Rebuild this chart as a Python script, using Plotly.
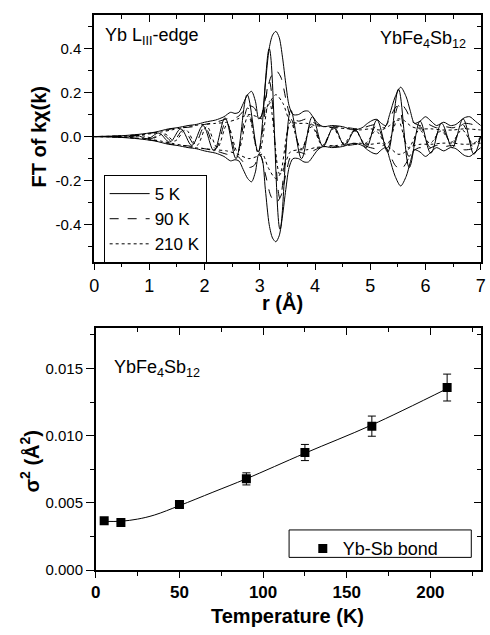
import plotly.graph_objects as go

# ---------------- top panel data ----------------
env_r_5K = [0.0, 0.5, 0.8, 1.1, 1.35, 1.5, 1.7, 1.85, 2.0, 2.1, 2.2, 2.35, 2.47, 2.55, 2.62, 2.7, 2.78, 2.85, 2.92, 2.98,
            3.04, 3.10, 3.17, 3.23, 3.29, 3.35, 3.41, 3.47, 3.53, 3.60, 3.70, 3.80, 3.88, 3.96, 4.05, 4.15, 4.3, 4.5,
            4.7, 4.85, 4.95, 5.05, 5.12, 5.2, 5.28, 5.35, 5.45, 5.55, 5.65, 5.72, 5.8, 5.9, 6.0, 6.1, 6.2, 6.33, 6.45,
            6.55, 6.7, 6.8, 6.9, 7.0]
env_5K = [0.0, 0.004, 0.01, 0.02, 0.035, 0.04, 0.05, 0.055, 0.065, 0.07, 0.075, 0.09, 0.11, 0.105, 0.11, 0.15, 0.19, 0.205, 0.16, 0.08,
          0.1, 0.24, 0.40, 0.46, 0.477, 0.45, 0.36, 0.24, 0.14, 0.1, 0.1, 0.115, 0.115, 0.09, 0.06, 0.045, 0.05, 0.045,
          0.03, 0.04, 0.06, 0.075, 0.078, 0.06, 0.05, 0.1, 0.18, 0.224, 0.18, 0.12, 0.06, 0.07, 0.09, 0.07, 0.05, 0.065, 0.05,
          0.055, 0.085, 0.09, 0.07, 0.05]

env_r_90K = [0.0, 0.5, 0.8, 1.0, 1.2, 1.4, 1.6, 1.8, 2.0, 2.2, 2.4, 2.6, 2.8, 2.9, 3.0, 3.1, 3.2, 3.29, 3.38, 3.48, 3.56,
             3.7, 3.85, 4.0, 4.2, 4.4, 4.6, 4.8, 5.0, 5.12, 5.25, 5.35, 5.45, 5.55, 5.65, 5.75, 5.9, 6.0, 6.2, 6.35, 6.5,
             6.7, 6.85, 7.0]
env_90K = [0.0, 0.003, 0.008, 0.015, 0.022, 0.035, 0.04, 0.045, 0.055, 0.065, 0.08, 0.09, 0.14, 0.13, 0.08, 0.17, 0.27, 0.30, 0.27, 0.16, 0.09,
           0.07, 0.08, 0.06, 0.04, 0.045, 0.04, 0.035, 0.05, 0.055, 0.04, 0.08, 0.13, 0.15, 0.12, 0.07, 0.05, 0.06, 0.04, 0.045, 0.04,
           0.06, 0.055, 0.04]

env_r_210K = [0.0, 0.5, 0.8, 1.0, 1.2, 1.4, 1.6, 1.8, 2.0, 2.2, 2.4, 2.6, 2.8, 2.95, 3.05, 3.15, 3.29, 3.42, 3.55, 3.7, 3.85,
              4.0, 4.2, 4.4, 4.6, 4.8, 5.0, 5.2, 5.35, 5.5, 5.6, 5.75, 5.9, 6.1, 6.3, 6.5, 6.7, 7.0]
env_210K = [0.0, 0.003, 0.008, 0.012, 0.02, 0.03, 0.04, 0.05, 0.055, 0.06, 0.065, 0.08, 0.1, 0.09, 0.08, 0.14, 0.19, 0.15, 0.07, 0.06, 0.06,
            0.05, 0.045, 0.04, 0.035, 0.03, 0.035, 0.03, 0.05, 0.08, 0.075, 0.045, 0.035, 0.035, 0.03, 0.03, 0.035, 0.03]

# real part, read at its extrema
re_r_5K = [0.0, 0.4, 0.57, 0.77, 0.97, 1.17, 1.37, 1.57, 1.77, 1.97, 2.17, 2.37, 2.57, 2.77, 2.97, 3.17, 3.365, 3.56,
           3.755, 3.95, 4.145, 4.34, 4.535, 4.73, 4.925, 5.12, 5.315, 5.51, 5.705, 5.9, 6.095, 6.29, 6.485, 6.68, 6.875, 7.0]
re_5K = [0.0, 0.0, -0.003, 0.006, -0.01, 0.016, -0.025, 0.035, -0.04, 0.05, -0.065, 0.085, -0.1, 0.19, -0.07, 0.398, -0.42, 0.12,
         -0.1, 0.09, -0.045, 0.045, -0.04, 0.03, -0.05, 0.075, -0.07, 0.215, -0.14, 0.07, -0.075, 0.06, -0.05, 0.08, -0.08, 0.0]
re_r_90K = [0.0, 0.45, 0.62, 0.82, 1.02, 1.22, 1.42, 1.62, 1.82, 2.0, 2.2, 2.39, 2.58, 2.78, 2.97, 3.17, 3.365, 3.56,
            3.75, 3.94, 4.14, 4.33, 4.53, 4.72, 4.92, 5.11, 5.31, 5.51, 5.7, 5.9, 6.09, 6.28, 6.48, 6.67, 6.87, 7.0]
re_90K = [0.0, 0.0, -0.003, 0.005, -0.01, 0.014, -0.022, 0.03, -0.035, 0.045, -0.055, 0.07, -0.08, 0.13, -0.07, 0.25, -0.28, 0.08,
          -0.065, 0.06, -0.04, 0.04, -0.035, 0.03, -0.04, 0.05, -0.05, 0.14, -0.09, 0.045, -0.05, 0.04, -0.035, 0.055, -0.05, 0.0]
re_r_210K = [0.0, 0.5, 0.67, 0.87, 1.07, 1.27, 1.46, 1.66, 1.86, 2.04, 2.23, 2.41, 2.6, 2.79, 2.98, 3.17, 3.36, 3.555,
             3.75, 3.94, 4.135, 4.33, 4.52, 4.72, 4.91, 5.1, 5.3, 5.5, 5.69, 5.89, 6.08, 6.28, 6.47, 6.66, 6.86, 7.0]
re_210K = [0.0, 0.0, -0.002, 0.004, -0.007, 0.013, -0.02, 0.03, -0.04, 0.045, -0.05, 0.055, -0.07, 0.095, -0.08, 0.16, -0.17, 0.065,
           -0.055, 0.045, -0.04, 0.035, -0.03, 0.025, -0.03, 0.025, -0.035, 0.075, -0.05, 0.03, -0.03, 0.025, -0.025, 0.03, -0.03, 0.0]

series = [
    ("5 K", env_r_5K, env_5K, re_r_5K, re_5K, "solid"),
    ("90 K", env_r_90K, env_90K, re_r_90K, re_90K, "dash"),
    ("210 K", env_r_210K, env_210K, re_r_210K, re_210K, "dot"),
]

# ---------------- bottom panel data ----------------
temps = [5, 15, 50, 90, 125, 165, 210]
sigma2 = [0.00368, 0.00355, 0.00488, 0.00679, 0.00875, 0.01071, 0.01358]
sigma2_err = [0.0001, 0.0001, 0.0002, 0.00045, 0.0006, 0.00075, 0.001]
fit_T = [5, 15, 25, 35, 50, 70, 90, 125, 165, 210]
fit_s2 = [0.00363, 0.00364, 0.0038, 0.0041, 0.0048, 0.0058, 0.0068, 0.0087, 0.0108, 0.0135]

FONT = "Liberation Sans, Arial, Helvetica, sans-serif"
fig = go.Figure()

for name, er, ev, rr, rv, dash in series:
    fig.add_trace(go.Scatter(x=er, y=ev, mode="lines", name=name, legend="legend",
                             line=dict(color="black", width=1, dash=dash, shape="spline", smoothing=0.8),
                             xaxis="x", yaxis="y", hoverinfo="skip"))
    fig.add_trace(go.Scatter(x=er, y=[-v for v in ev], mode="lines", showlegend=False,
                             line=dict(color="black", width=1, dash=dash, shape="spline", smoothing=0.8),
                             xaxis="x", yaxis="y", hoverinfo="skip"))
    fig.add_trace(go.Scatter(x=rr, y=rv, mode="lines", showlegend=False,
                             line=dict(color="black", width=1, dash=dash, shape="spline", smoothing=1.0),
                             xaxis="x", yaxis="y", hoverinfo="skip"))

# mirror-axis dummy traces
fig.add_trace(go.Scatter(x=[1], y=[0], mode="markers", marker=dict(opacity=0), showlegend=False,
                         xaxis="x3", yaxis="y3", hoverinfo="skip"))
fig.add_trace(go.Scatter(x=[100], y=[0.005], mode="markers", marker=dict(opacity=0), showlegend=False,
                         xaxis="x4", yaxis="y4", hoverinfo="skip"))

# bottom panel
fig.add_trace(go.Scatter(x=fit_T, y=fit_s2, mode="lines", showlegend=False,
                         line=dict(color="black", width=1, shape="spline", smoothing=1.0),
                         xaxis="x2", yaxis="y2", hoverinfo="skip"))
fig.add_trace(go.Scatter(x=temps, y=sigma2, mode="markers", name="Yb-Sb bond", legend="legend2",
                         marker=dict(symbol="square", size=9, color="black"),
                         error_y=dict(type="data", array=sigma2_err, color="black", thickness=1, width=4),
                         xaxis="x2", yaxis="y2"))

ax_common = dict(showline=True, linecolor="black", linewidth=1.5, showgrid=False, zeroline=False,
                 tickcolor="black", tickwidth=1.3)

top_dom_x = [0.1857, 0.9912]
top_dom_y = [0.5827, 0.9753]
bot_dom_x = [0.1892, 0.9908]
bot_dom_y = [0.0906, 0.4767]
ytop_range = [-0.567, 0.549]

fig.update_layout(
    width=490, height=635, margin=dict(l=0, r=0, t=0, b=0),
    paper_bgcolor="white", plot_bgcolor="white",
    font=dict(family=FONT, color="black"),
    xaxis=dict(domain=top_dom_x, range=[0, 7], anchor="y", ticks="outside", ticklen=7, dtick=1, tick0=0,
               tickfont=dict(size=18), ticklabeloverflow="allow",
               minor=dict(ticks="outside", ticklen=4, dtick=0.5, tick0=0), **ax_common),
    yaxis=dict(domain=top_dom_y, range=ytop_range, anchor="x", ticks="outside", ticklen=8,
               tickvals=[-0.4, -0.2, 0.0, 0.2, 0.4], ticktext=["-0.4", "-0.2", "0.0", "0.2", "0.4"],
               tickfont=dict(size=15),
               minor=dict(ticks="outside", ticklen=4, tickvals=[-0.5, -0.3, -0.1, 0.1, 0.3, 0.5]), **ax_common),
    xaxis3=dict(overlaying="x", side="top", anchor="y", range=[0, 7], ticks="inside", ticklen=7, dtick=1, tick0=0,
                showticklabels=False, minor=dict(ticks="inside", ticklen=4, dtick=0.5, tick0=0), **ax_common),
    yaxis3=dict(overlaying="y", side="right", anchor="x", range=ytop_range, ticks="inside", ticklen=7,
                tickvals=[-0.4, -0.2, 0.0, 0.2, 0.4], showticklabels=False,
                minor=dict(ticks="inside", ticklen=4, tickvals=[-0.5, -0.3, -0.1, 0.1, 0.3, 0.5]), **ax_common),
    xaxis2=dict(domain=bot_dom_x, range=[0, 230], anchor="y2", ticks="outside", ticklen=6, dtick=50, tick0=0,
                tickfont=dict(size=17, weight="bold"),
                minor=dict(ticks="outside", ticklen=4, dtick=25, tick0=0), **ax_common),
    yaxis2=dict(domain=bot_dom_y, range=[0, 0.018], anchor="x2", ticks="outside", ticklen=8,
                tickvals=[0, 0.005, 0.010, 0.015], ticktext=["0.000", "0.005", "0.010", "0.015"],
                tickfont=dict(size=15),
                minor=dict(ticks="outside", ticklen=4, tickvals=[0.0025, 0.0075, 0.0125, 0.0175]), **ax_common),
    xaxis4=dict(overlaying="x2", side="top", anchor="y2", range=[0, 230], ticks="inside", ticklen=7, dtick=50, tick0=0,
                showticklabels=False, minor=dict(ticks="inside", ticklen=4, dtick=25, tick0=0), **ax_common),
    yaxis4=dict(overlaying="y2", side="right", anchor="x2", range=[0, 0.018], ticks="inside", ticklen=7,
                tickvals=[0, 0.005, 0.010, 0.015], showticklabels=False,
                minor=dict(ticks="inside", ticklen=4, tickvals=[0.0025, 0.0075, 0.0125, 0.0175]), **ax_common),
    legend=dict(x=100.7 / 490, y=1 - 177.3 / 635, xanchor="left", yanchor="top", bgcolor="white",
                bordercolor="black", borderwidth=1, font=dict(size=17), tracegroupgap=0, itemwidth=40),
    legend2=dict(x=304 / 490, y=1 - 537 / 635, xanchor="left", yanchor="top", bgcolor="rgba(0,0,0,0)",
                 borderwidth=0, font=dict(size=18)),
    showlegend=True,
    shapes=[dict(type="rect", xref="paper", yref="paper", x0=290 / 490, x1=476 / 490,
                 y0=1 - 564.5 / 635, y1=1 - 536.7 / 635, line=dict(color="black", width=1),
                 fillcolor="white", layer="above")],
)

annotations = [
    dict(text="Yb L<sub>III</sub>-edge", x=100 / 490, y=1 - 37 / 635, xref="paper", yref="paper",
         xanchor="left", yanchor="middle", showarrow=False, font=dict(size=18)),
    dict(text="YbFe<sub>4</sub>Sb<sub>12</sub>", x=473 / 490, y=1 - 40 / 635, xref="paper", yref="paper",
         xanchor="right", yanchor="middle", showarrow=False, font=dict(size=18)),
    dict(text="YbFe<sub>4</sub>Sb<sub>12</sub>", x=109 / 490, y=1 - 373 / 635, xref="paper", yref="paper",
         xanchor="left", yanchor="middle", showarrow=False, font=dict(size=18)),
    dict(text="<b>FT of k\u03c7(k)</b>", x=35 / 490, y=1 - 138 / 635, xref="paper", yref="paper",
         xanchor="center", yanchor="middle", textangle=-90, showarrow=False, font=dict(size=20)),
    dict(text="<b>r (\u00c5)</b>", x=283 / 490, y=1 - 306 / 635, xref="paper", yref="paper",
         xanchor="center", yanchor="middle", showarrow=False, font=dict(size=20)),
    dict(text="<b>\u03c3<sup>2</sup> (\u00c5<sup>2</sup>)</b>", x=25 / 490, y=1 - 467 / 635, xref="paper", yref="paper",
         xanchor="center", yanchor="middle", textangle=-90, showarrow=False, font=dict(size=20)),
    dict(text="<b>Temperature (K)</b>", x=288 / 490, y=1 - 624 / 635, xref="paper", yref="paper",
         xanchor="center", yanchor="middle", showarrow=False, font=dict(size=20)),
]
fig.update_layout(annotations=annotations)

fig.write_html("out.html")
